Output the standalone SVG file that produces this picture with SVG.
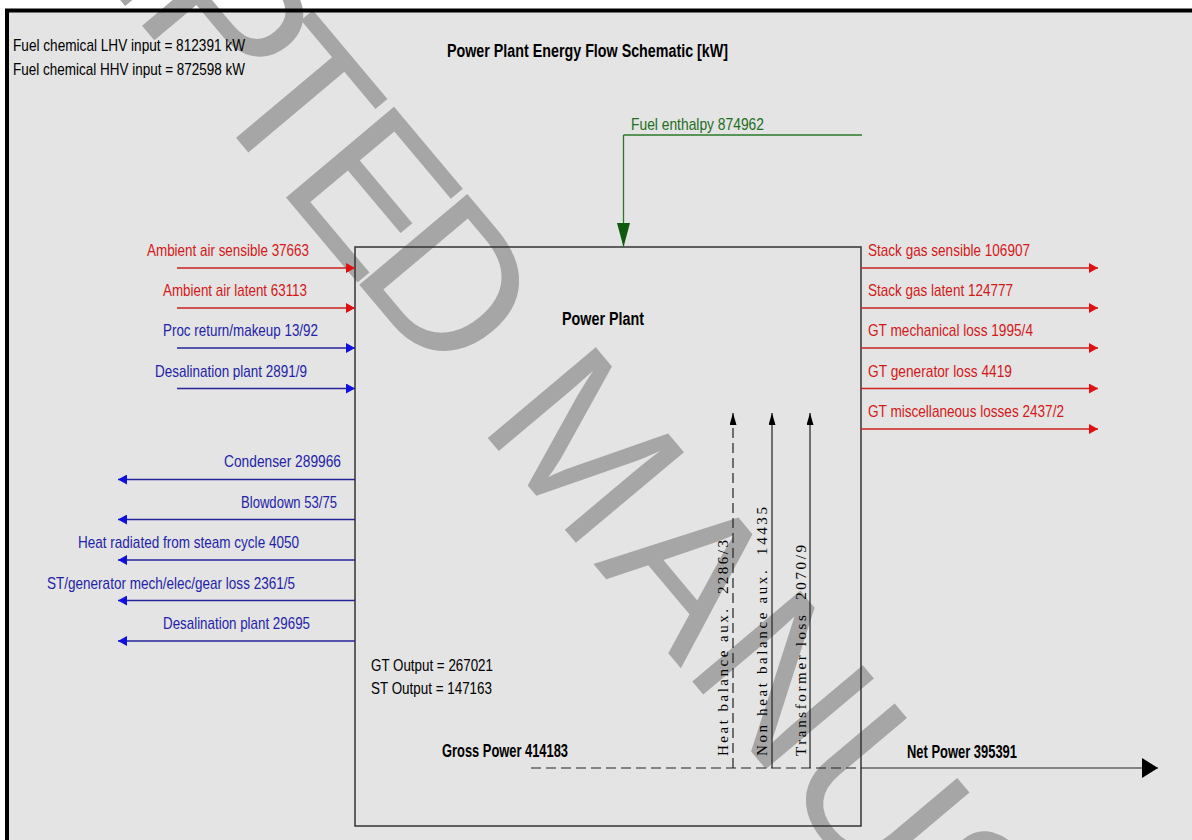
<svg xmlns="http://www.w3.org/2000/svg" width="1192" height="840" viewBox="0 0 1192 840">
<style>
.t{font-family:'Liberation Sans Narrow','Liberation Sans',Arial,sans-serif;font-size:17px;fill:#000}
.b{font-weight:bold;font-size:18px}
.red{fill:#d41818}
.blue{fill:#2323a8}
.grn{fill:#1e6e1e}
.v{font-family:'Liberation Serif','Times New Roman',serif;font-size:15px;fill:#000}
.lr{stroke:#cc2222;stroke-width:1.5;fill:none}
.lb{stroke:#25259a;stroke-width:1.5;fill:none}
.lg{stroke:#2a7a2a;stroke-width:1.3;fill:none}
.lk{stroke:#222;stroke-width:1.2;fill:none}
.dash{stroke-dasharray:10 5}
.wm{font-family:'Liberation Sans',Arial,sans-serif;font-size:205px;fill:#a6a6a6}
</style>
<defs>
<marker id="aR" markerWidth="10" markerHeight="10" refX="9" refY="5" orient="auto" markerUnits="userSpaceOnUse"><path d="M0,0 L9,5 L0,10 z" fill="#e01010"/></marker>
<marker id="aB" markerWidth="10" markerHeight="10" refX="9" refY="5" orient="auto" markerUnits="userSpaceOnUse"><path d="M0,0 L9,5 L0,10 z" fill="#1010e0"/></marker>
<marker id="aK" markerWidth="13" markerHeight="8" refX="12" refY="3.5" orient="auto" markerUnits="userSpaceOnUse"><path d="M0,0 L12,3.5 L0,7 z" fill="#000"/></marker>
<marker id="aKL" markerWidth="17" markerHeight="21" refX="16" refY="10" orient="auto" markerUnits="userSpaceOnUse"><path d="M0,0 L16,10 L0,20 z" fill="#000"/></marker>
<marker id="aG" markerWidth="25" markerHeight="14" refX="24" refY="6.5" orient="auto" markerUnits="userSpaceOnUse"><path d="M0,0 L24,6.5 L0,13 z" fill="#0f5a0f"/></marker>
</defs>
<rect x="0" y="0" width="1192" height="840" fill="#fff"/>
<rect x="7" y="10.5" width="1200" height="840" fill="#e4e4e4"/>
<text class="wm" transform="translate(477,425) rotate(50)" x="-1108 -971 -823 -675 -538 -428 -314 -200 -52 0 181 318 466 614 751 899 1047 1104 1241" y="0">ACCEPTED MANUSCRIPT</text>
<rect x="7" y="10.5" width="1200" height="840" fill="none" stroke="#000" stroke-width="4"/>

<g id="header">
<text class="t" x="13" y="51" textLength="232" lengthAdjust="spacingAndGlyphs">Fuel chemical LHV input = 812391 kW</text>
<text class="t" x="13" y="75" textLength="232" lengthAdjust="spacingAndGlyphs">Fuel chemical HHV input = 872598 kW</text>
<text class="t b" x="447" y="57" textLength="281" lengthAdjust="spacingAndGlyphs">Power Plant Energy Flow Schematic [kW]</text>
</g>

<g id="power-plant">
<rect x="355" y="247" width="506" height="579" fill="none" stroke="#333" stroke-width="1.5"/>
<text class="t b" x="562" y="325" textLength="82" lengthAdjust="spacingAndGlyphs">Power Plant</text>
<text class="t" x="371" y="671" textLength="122" lengthAdjust="spacingAndGlyphs">GT Output = 267021</text>
<text class="t" x="371" y="694" textLength="121" lengthAdjust="spacingAndGlyphs">ST Output = 147163</text>
<text class="t b" x="442" y="757" textLength="126" lengthAdjust="spacingAndGlyphs">Gross Power 414183</text>
<text class="t b" x="907" y="758" textLength="110" lengthAdjust="spacingAndGlyphs">Net Power 395391</text>
</g>

<g id="fuel">
<text class="t grn" x="631" y="130" textLength="133" lengthAdjust="spacingAndGlyphs">Fuel enthalpy 874962</text>
</g>

<g id="inputs">
<text class="t red" x="147" y="256" textLength="162" lengthAdjust="spacingAndGlyphs">Ambient air sensible 37663</text>
<text class="t red" x="163" y="296" textLength="144" lengthAdjust="spacingAndGlyphs">Ambient air latent 63113</text>
<text class="t blue" x="163" y="336" textLength="155" lengthAdjust="spacingAndGlyphs">Proc return/makeup 13/92</text>
<text class="t blue" x="155" y="377" textLength="152" lengthAdjust="spacingAndGlyphs">Desalination plant 2891/9</text>
</g>

<g id="outputs-right">
<text class="t red" x="868" y="256" textLength="162" lengthAdjust="spacingAndGlyphs">Stack gas sensible 106907</text>
<text class="t red" x="868" y="296" textLength="145" lengthAdjust="spacingAndGlyphs">Stack gas latent 124777</text>
<text class="t red" x="868" y="336" textLength="165" lengthAdjust="spacingAndGlyphs">GT mechanical loss 1995/4</text>
<text class="t red" x="868" y="377" textLength="144" lengthAdjust="spacingAndGlyphs">GT generator loss 4419</text>
<text class="t red" x="868" y="417" textLength="196" lengthAdjust="spacingAndGlyphs">GT miscellaneous losses 2437/2</text>
</g>

<g id="outputs-left">
<text class="t blue" x="224" y="467" textLength="117" lengthAdjust="spacingAndGlyphs">Condenser 289966</text>
<text class="t blue" x="241" y="508" textLength="96" lengthAdjust="spacingAndGlyphs">Blowdown 53/75</text>
<text class="t blue" x="78" y="548" textLength="221" lengthAdjust="spacingAndGlyphs">Heat radiated from steam cycle 4050</text>
<text class="t blue" x="47" y="589" textLength="248" lengthAdjust="spacingAndGlyphs">ST/generator mech/elec/gear loss 2361/5</text>
<text class="t blue" x="163" y="629" textLength="147" lengthAdjust="spacingAndGlyphs">Desalination plant 29695</text>
</g>

<g id="aux-labels">
<text class="v" transform="translate(728,756) rotate(-90)" xml:space="preserve" textLength="216" lengthAdjust="spacing">Heat balance aux.  2286/3</text>
<text class="v" transform="translate(767,756) rotate(-90)" xml:space="preserve" textLength="249" lengthAdjust="spacing">Non heat balance aux.  14435</text>
<text class="v" transform="translate(805.5,756) rotate(-90)" xml:space="preserve" textLength="211" lengthAdjust="spacing">Transformer loss  2070/9</text>
</g>

<g id="connectors">
<path class="lg" d="M623.5,135 H862"/>
<path class="lg" d="M623.5,135 V247" marker-end="url(#aG)"/>
<path class="lr" d="M177,268 H355" marker-end="url(#aR)"/>
<path class="lr" d="M177,308 H355" marker-end="url(#aR)"/>
<path class="lb" d="M177,348 H355" marker-end="url(#aB)"/>
<path class="lb" d="M177,388.5 H355" marker-end="url(#aB)"/>
<path class="lr" d="M861,268 H1098" marker-end="url(#aR)"/>
<path class="lr" d="M861,308 H1098" marker-end="url(#aR)"/>
<path class="lr" d="M861,348 H1098" marker-end="url(#aR)"/>
<path class="lr" d="M861,388.5 H1098" marker-end="url(#aR)"/>
<path class="lr" d="M861,429 H1098" marker-end="url(#aR)"/>
<path class="lb" d="M355,479.5 H118" marker-end="url(#aB)"/>
<path class="lb" d="M355,519.5 H118" marker-end="url(#aB)"/>
<path class="lb" d="M355,560 H118" marker-end="url(#aB)"/>
<path class="lb" d="M355,600.5 H118" marker-end="url(#aB)"/>
<path class="lb" d="M355,641 H118" marker-end="url(#aB)"/>
<path class="lk dash" d="M733,768 V413" marker-end="url(#aK)"/>
<path class="lk" d="M772,768 V413" marker-end="url(#aK)"/>
<path class="lk" d="M810,768 V413" marker-end="url(#aK)"/>
<path class="lk dash" d="M531,768 H861"/>
<path class="lk" d="M861,768 H1158" marker-end="url(#aKL)"/>
</g>
</svg>
